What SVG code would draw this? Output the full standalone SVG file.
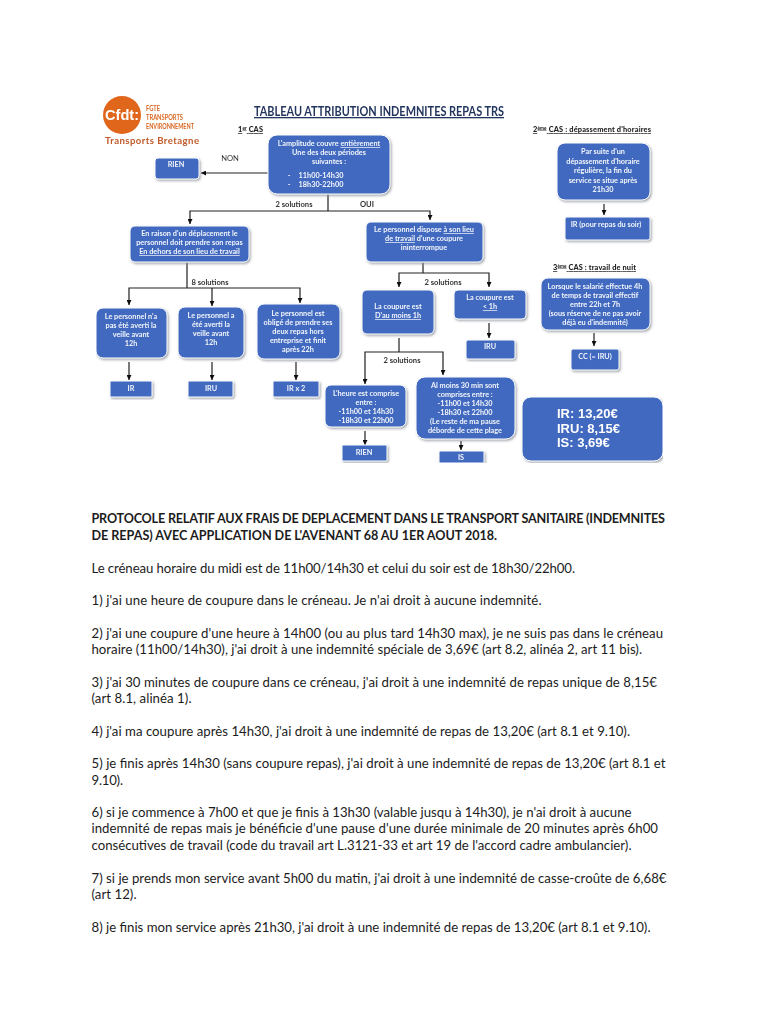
<svg xmlns="http://www.w3.org/2000/svg" width="768" height="1024" viewBox="0 0 768 1024">
<style>
text{font-family:"Lato","Liberation Sans",sans-serif}
.b{fill:#4169BF;stroke:#fff;stroke-width:1;filter:url(#sh)}
.t{fill:#F2F5FB;font-size:7.3px;font-weight:700;text-anchor:middle}
.u{text-decoration:underline}
.l{fill:#333;font-size:7.6px;font-weight:700;text-anchor:middle}
.h{fill:#222;font-size:7.4px;font-weight:900}
.c{fill:none;stroke:#222;stroke-width:1.2}
.a{marker-end:url(#ah)}
.p{fill:#1c1c1c;font-size:13.2px}
.pb{fill:#1c1c1c;font-size:12.6px;font-weight:700}
.pr{fill:#fff;font-family:"Liberation Sans",sans-serif;font-size:13px;font-weight:700}
</style>
<defs>
<filter id="sh" x="-15%" y="-15%" width="130%" height="130%"><feDropShadow dx="1.2" dy="1.4" stdDeviation="0.9" flood-color="#8a8f98" flood-opacity="0.8"/></filter>
<filter id="soft" x="0" y="0" width="100%" height="100%"><feGaussianBlur stdDeviation="0.3"/></filter>
<marker id="ah" markerUnits="userSpaceOnUse" markerWidth="6" markerHeight="5" refX="5" refY="2.5" orient="auto"><path d="M0 0L5 2.5L0 5Z" fill="#111"/></marker>
</defs>
<rect width="768" height="1024" fill="#fff"/>

<g id="diagram" filter="url(#soft)">
<g id="logo">
<circle cx="122" cy="115" r="19" fill="#E0661C"/>
<text x="105" y="120" fill="#fff" font-size="14" font-weight="700" style="font-family:'Liberation Sans',sans-serif" textLength="34" lengthAdjust="spacingAndGlyphs">Cfdt:</text>
<g fill="#D9661F" font-size="7.6" font-weight="700">
<text x="146" y="110.500" textLength="14" lengthAdjust="spacingAndGlyphs">FGTE</text>
<text x="146" y="119.500" textLength="37" lengthAdjust="spacingAndGlyphs">TRANSPORTS</text>
<text x="146" y="128.500" textLength="48" lengthAdjust="spacingAndGlyphs">ENVIRONNEMENT</text>
</g>
<text x="105" y="144" fill="#C05A2A" font-size="9.6" font-weight="700" textLength="94">Transports Bretagne</text>
</g>

<text x="254" y="116" fill="#24365e" font-size="13" font-weight="700" class="u" textLength="250" lengthAdjust="spacingAndGlyphs">TABLEAU ATTRIBUTION INDEMNITES REPAS TRS</text>
<text class="h u" x="238" y="132" textLength="25">1<tspan font-size="4.6" dy="-2.5">er</tspan><tspan dy="2.5"> CAS</tspan></text>
<text class="h u" x="533" y="132" textLength="118">2<tspan font-size="4.6" dy="-2.5">ème</tspan><tspan dy="2.5"> CAS : dépassement d'horaires</tspan></text>
<text class="h u" x="553" y="270" textLength="83">3<tspan font-size="4.6" dy="-2.5">ème</tspan><tspan dy="2.5"> CAS : travail de nuit</tspan></text>

<g id="connectors">
<path class="c a" d="M268 173H201"/>
<path class="c" d="M328 194V211"/>
<path class="c a" d="M328 211H190V224"/>
<path class="c a" d="M328 211H430V220"/>
<path class="c" d="M187 262V288"/>
<path class="c a" d="M187 288H129V305"/>
<path class="c a" d="M212 288V306"/>
<path class="c a" d="M187 288H300V303"/>
<path class="c a" d="M129 362V380"/>
<path class="c a" d="M212 362V380"/>
<path class="c a" d="M296 362V380"/>
<path class="c" d="M423 262V273"/>
<path class="c a" d="M423 273H399V287"/>
<path class="c a" d="M423 273H489V287"/>
<path class="c a" d="M489 323V338"/>
<path class="c" d="M399 338V352"/>
<path class="c a" d="M399 352H365V384"/>
<path class="c a" d="M399 352H443V375"/>
<path class="c a" d="M365 431V445"/>
<path class="c a" d="M461 441V450"/>
<path class="c a" d="M604 204V215"/>
<path class="c a" d="M594 333V346"/>
</g>

<text class="l" x="230" y="161" style="font-weight:400">NON</text>
<text class="l" x="294" y="207">2 solutions</text>
<text class="l" x="367" y="207">OUI</text>
<text class="l" x="210" y="285">8 solutions</text>
<text class="l" x="443" y="285">2 solutions</text>
<text class="l" x="402" y="363">2 solutions</text>

<g id="n-amplitude"><rect class="b" x="268" y="135" width="122" height="59" rx="9"/>
<text class="t" x="329" y="146">L'amplitude couvre <tspan class="u">entièrement</tspan></text>
<text class="t" x="329" y="155">Une des deux périodes</text>
<text class="t" x="329" y="164">suivantes :</text>
<text class="t" x="289" y="178">-</text><text class="t" x="321" y="178">11h00-14h30</text>
<text class="t" x="289" y="187">-</text><text class="t" x="321" y="187">18h30-22h00</text></g>
<g id="n-rien1"><rect class="b" x="155" y="158" width="44" height="21" rx="3"/><text class="t" x="176" y="167">RIEN</text></g>
<g id="n-deplacement"><rect class="b" x="130" y="226" width="119" height="36" rx="5"/>
<text class="t" x="189.500" y="236">En raison d'un déplacement le</text>
<text class="t" x="189.500" y="245">personnel doit prendre son repas</text>
<text class="t u" x="189.500" y="254">En dehors de son lieu de travail</text></g>
<g id="n-a"><rect class="b" x="96" y="308" width="71" height="50" rx="7"/>
<text class="t" x="131" y="319">Le personnel n'a</text><text class="t" x="131" y="328">pas été averti la</text><text class="t" x="131" y="337">veille avant</text><text class="t" x="131" y="345.500">12h</text></g>
<g id="n-b"><rect class="b" x="178" y="307" width="66" height="51" rx="7"/>
<text class="t" x="211" y="318">Le personnel a</text><text class="t" x="211" y="327">été averti la</text><text class="t" x="211" y="336">veille avant</text><text class="t" x="211" y="345">12h</text></g>
<g id="n-c"><rect class="b" x="257" y="304" width="83" height="55" rx="7"/>
<text class="t" x="298" y="316">Le personnel est</text><text class="t" x="298" y="325">obligé de prendre ses</text><text class="t" x="298" y="334">deux repas hors</text><text class="t" x="298" y="343">entreprise et finit</text><text class="t" x="298" y="351.500">après 22h</text></g>
<g id="n-ir1"><rect class="b" x="110" y="381" width="42" height="16" rx="1"/><text class="t" x="131" y="391">IR</text></g>
<g id="n-iru1"><rect class="b" x="188" y="381" width="45" height="16" rx="1"/><text class="t" x="211" y="391">IRU</text></g>
<g id="n-irx2"><rect class="b" x="273" y="381" width="46" height="16" rx="1"/><text class="t" x="296" y="391">IR x 2</text></g>
<g id="n-lieu"><rect class="b" x="366" y="222" width="117" height="40" rx="5"/>
<text class="t" x="424" y="232">Le personnel dispose <tspan class="u">à son lieu</tspan></text>
<text class="t" x="424" y="241"><tspan class="u">de travail</tspan> d'une coupure</text>
<text class="t" x="424" y="250">ininterrompue</text></g>
<g id="n-1h"><rect class="b" x="362" y="290" width="72" height="44" rx="5"/>
<text class="t" x="398" y="309">La coupure est</text><text class="t u" x="398" y="318">D'au moins 1h</text></g>
<g id="n-lt1h"><rect class="b" x="454" y="290" width="72" height="29" rx="4"/>
<text class="t" x="490" y="300">La coupure est</text><text class="t u" x="490" y="309">&lt; 1h</text></g>
<g id="n-iru2"><rect class="b" x="466" y="340" width="49" height="19" rx="2"/><text class="t" x="490" y="349">IRU</text></g>
<g id="n-heure"><rect class="b" x="325" y="385" width="81" height="42" rx="6"/>
<text class="t" x="366" y="396">L'heure est comprise</text><text class="t" x="366" y="405">entre :</text><text class="t" x="366" y="414">-11h00 et 14h30</text><text class="t" x="366" y="423">-18h30 et 22h00</text></g>
<g id="n-30min"><rect class="b" x="416" y="377" width="99" height="62" rx="9"/>
<text class="t" x="465" y="388">Al moins 30 min sont</text><text class="t" x="465" y="397">comprises entre :</text><text class="t" x="465" y="406">-11h00 et 14h30</text><text class="t" x="465" y="415">-18h30 et 22h00</text><text class="t" x="465" y="424">(Le reste de ma pause</text><text class="t" x="465" y="433">déborde de cette plage</text></g>
<g id="n-rien2"><rect class="b" x="342" y="445" width="45" height="16" rx="1"/><text class="t" x="364" y="454.500">RIEN</text></g>
<g id="n-is"><rect class="b" x="439" y="451" width="45" height="12" rx="1"/><text class="t" x="461" y="460">IS</text></g>
<g id="n-prix"><rect class="b" x="522" y="397" width="141" height="64" rx="9"/>
<text class="pr" x="557" y="418">IR: 13,20€</text><text class="pr" x="557" y="433">IRU: 8,15€</text><text class="pr" x="557" y="447">IS: 3,69€</text></g>
<g id="n-depassement"><rect class="b" x="557" y="143" width="93" height="57" rx="8"/>
<text class="t" x="603" y="154">Par suite d'un</text><text class="t" x="603" y="164">dépassement d'horaire</text><text class="t" x="603" y="173">régulière, la fin du</text><text class="t" x="603" y="183">service se situe après</text><text class="t" x="603" y="192">21h30</text></g>
<g id="n-irsoir"><rect class="b" x="565" y="217" width="85" height="23" rx="2"/><text class="t" x="606" y="227">IR (pour repas du soir)</text></g>
<g id="n-nuit"><rect class="b" x="541" y="278" width="109" height="52" rx="7"/>
<text class="t" x="595" y="289">Lorsque le salarié effectue 4h</text><text class="t" x="595" y="298">de temps de travail effectif</text><text class="t" x="595" y="307">entre 22h et 7h</text><text class="t" x="595" y="316">(sous réserve de ne pas avoir</text><text class="t" x="595" y="325">déjà eu d'indemnité)</text></g>
<g id="n-cc"><rect class="b" x="571" y="349" width="48" height="21" rx="2"/><text class="t" x="595" y="359">CC (= IRU)</text></g>
</g>

<g id="protocole">
<text class="pb" x="91.500" y="523" textLength="573.500">PROTOCOLE RELATIF AUX FRAIS DE DEPLACEMENT DANS LE TRANSPORT SANITAIRE (INDEMNITES</text>
<text class="pb" x="91.500" y="539.500" textLength="405.500">DE REPAS) AVEC APPLICATION DE L'AVENANT 68 AU 1ER AOUT 2018.</text>
<text class="p" x="91.500" y="572.500" textLength="483.500">Le créneau horaire du midi est de 11h00/14h30 et celui du soir est de 18h30/22h00.</text>
<text class="p" x="91.500" y="605" textLength="450">1) j'ai une heure de coupure dans le créneau. Je n'ai droit à aucune indemnité.</text>
<text class="p" x="91.500" y="637.500" textLength="571.500">2) j'ai une coupure d'une heure à 14h00 (ou au plus tard 14h30 max), je ne suis pas dans le créneau</text>
<text class="p" x="91.500" y="654" textLength="550.500">horaire (11h00/14h30), j'ai droit à une indemnité spéciale de 3,69€ (art 8.2, alinéa 2, art 11 bis).</text>
<text class="p" x="91.500" y="686.500" textLength="565.500">3) j'ai 30 minutes de coupure dans ce créneau, j'ai droit à une indemnité de repas unique de 8,15€</text>
<text class="p" x="91.500" y="703" textLength="100">(art 8.1, alinéa 1).</text>
<text class="p" x="91.500" y="735.500" textLength="538.500">4) j'ai ma coupure après 14h30, j'ai droit à une indemnité de repas de 13,20€ (art 8.1 et 9.10).</text>
<text class="p" x="91.500" y="768" textLength="574">5) je finis après 14h30 (sans coupure repas), j'ai droit à une indemnité de repas de 13,20€ (art 8.1 et</text>
<text class="p" x="91.500" y="784.500" textLength="31.500">9.10).</text>
<text class="p" x="91.500" y="817" textLength="540">6) si je commence à 7h00 et que je finis à 13h30 (valable jusqu à 14h30), je n'ai droit à aucune</text>
<text class="p" x="91.500" y="833" textLength="566.500">indemnité de repas mais je bénéficie d'une pause d'une durée minimale de 20 minutes après 6h00</text>
<text class="p" x="91.500" y="849.500" textLength="540">consécutives de travail (code du travail art L.3121-33 et art 19 de l'accord cadre ambulancier).</text>
<text class="p" x="91.500" y="882.500" textLength="575">7) si je prends mon service avant 5h00 du matin, j'ai droit à une indemnité de casse-croûte de 6,68€</text>
<text class="p" x="91.500" y="899" textLength="45">(art 12).</text>
<text class="p" x="91.500" y="931.500" textLength="559">8) je finis mon service après 21h30, j'ai droit à une indemnité de repas de 13,20€ (art 8.1 et 9.10).</text>
</g>
</svg>
